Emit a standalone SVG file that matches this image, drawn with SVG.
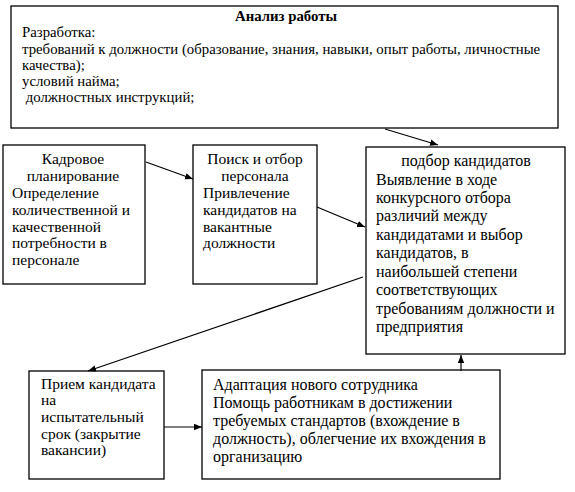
<svg xmlns="http://www.w3.org/2000/svg" width="575" height="492" viewBox="0 0 575 492">
<style>
.box{fill:#fff;stroke:#000;stroke-width:1.3}
text{font-family:'Liberation Serif','DejaVu Serif',serif;font-size:15.5px;fill:#000}
.top text{font-size:14.8px}
.big text{font-size:16px}
.c{text-anchor:middle}
.b{font-weight:bold}
.con line{stroke:#000;stroke-width:1.2;marker-end:url(#ah)}
</style>
<defs>
<marker id="ah" viewBox="0 0 10 10" refX="10" refY="5" markerWidth="8" markerHeight="8" markerUnits="userSpaceOnUse" orient="auto">
<path d="M0,1 L10,5 L0,9 Z" fill="#000"/>
</marker>
</defs>
<rect width="575" height="492" fill="#fff"/>
<g id="analiz" class="top">
<rect class="box" x="11" y="6" width="547" height="122"/>
<text class="c b" x="286" y="21">Анализ работы</text>
<text x="22" y="37">Разработка:</text>
<text x="22" y="54">требований к должности (образование, знания, навыки, опыт работы, личностные</text>
<text x="22" y="70">качества);</text>
<text x="22" y="86">условий найма;</text>
<text x="22" y="102" xml:space="preserve"> должностных инструкций;</text>
</g>
<g id="kadr">
<rect class="box" x="3" y="145" width="142" height="139"/>
<text class="c" x="73" y="164">Кадровое</text>
<text class="c" x="73" y="181">планирование</text>
<text x="12" y="198">Определение</text>
<text x="12" y="215">количественной и</text>
<text x="12" y="232">качественной</text>
<text x="12" y="248">потребности в</text>
<text x="12" y="265">персонале</text>
</g>
<g id="poisk">
<rect class="box" x="193" y="145" width="124" height="139"/>
<text class="c" x="255" y="164">Поиск и отбор</text>
<text class="c" x="255" y="181">персонала</text>
<text x="203" y="198">Привлечение</text>
<text x="203" y="215">кандидатов на</text>
<text x="203" y="232">вакантные</text>
<text x="203" y="248">должности</text>
</g>
<g id="podbor" class="big">
<rect class="box" x="366" y="147" width="199" height="207"/>
<text class="c" x="466" y="166">подбор кандидатов</text>
<text x="376" y="185">Выявление в ходе</text>
<text x="376" y="203">конкурсного отбора</text>
<text x="376" y="221">различий между</text>
<text x="376" y="240">кандидатами и выбор</text>
<text x="376" y="258">кандидатов, в</text>
<text x="376" y="277">наибольшей степени</text>
<text x="376" y="295">соответствующих</text>
<text x="376" y="314">требованиям должности и</text>
<text x="376" y="332">предприятия</text>
</g>
<g id="priem">
<rect class="box" x="29" y="371" width="135" height="108"/>
<text x="41" y="389">Прием кандидата</text>
<text x="41" y="405">на</text>
<text x="41" y="422">испытательный</text>
<text x="41" y="439">срок (закрытие</text>
<text x="41" y="455">вакансии)</text>
</g>
<g id="adapt" class="big">
<rect class="box" x="202" y="370" width="298" height="109"/>
<text x="213" y="390">Адаптация нового сотрудника</text>
<text x="213" y="408">Помощь работникам в достижении</text>
<text x="213" y="426">требуемых стандартов (вхождение в</text>
<text x="213" y="444">должность), облегчение их вхождения в</text>
<text x="213" y="462">организацию</text>
</g>
<g id="connectors" class="con">
<line x1="385" y1="129" x2="438" y2="145"/>
<line x1="146" y1="162" x2="193" y2="179"/>
<line x1="317" y1="207" x2="365" y2="227"/>
<line x1="363" y1="277" x2="88" y2="371"/>
<line x1="164" y1="427" x2="202" y2="427"/>
<line x1="461" y1="371" x2="461" y2="355"/>
</g>
</svg>
